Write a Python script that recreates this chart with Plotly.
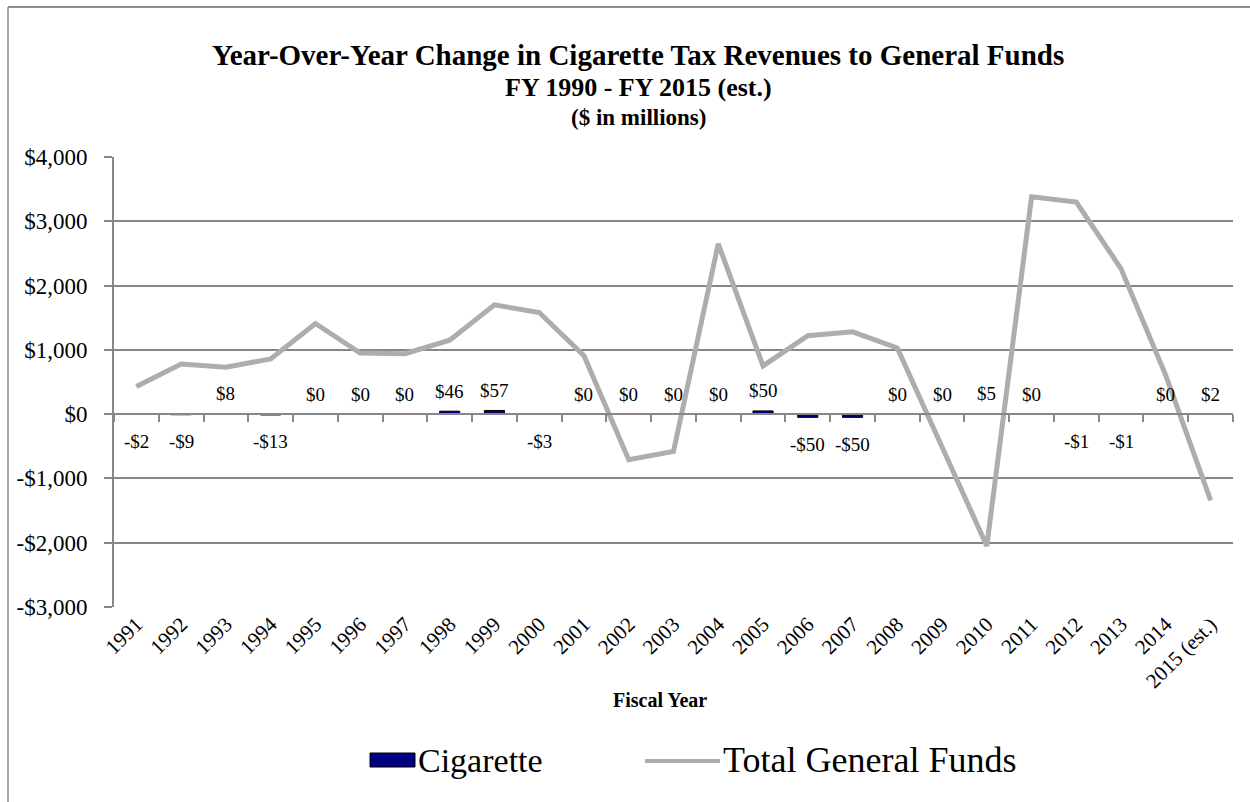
import plotly.graph_objects as go

# Fiscal years on the category axis
years = ["1991", "1992", "1993", "1994", "1995", "1996", "1997", "1998", "1999",
         "2000", "2001", "2002", "2003", "2004", "2005", "2006", "2007", "2008",
         "2009", "2010", "2011", "2012", "2013", "2014", "2015 (est.)"]

# Year-over-year change in cigarette tax revenue ($ millions)
cigarette = [-2, -9, 8, -13, 0, 0, 0, 46, 57, -3, 0, 0, 0, 0, 50, -50, -50,
             0, 0, 5, 0, -1, -1, 0, 2]

# Year-over-year change in total general funds ($ millions)
total_general_funds = [430, 780, 730, 860, 1410, 950, 940, 1150, 1700, 1580,
                       910, -710, -580, 2650, 750, 1220, 1280, 1030, -510,
                       -2050, 3380, 3300, 2260, 600, -1340]

y_ticks = [-3000, -2000, -1000, 0, 1000, 2000, 3000, 4000]
y_tick_text = ["-$3,000", "-$2,000", "-$1,000", "$0", "$1,000", "$2,000", "$3,000", "$4,000"]

W, H = 1250, 802
L, R, T, B = 114, 17, 157, 195
PW, PH = W - L - R, H - T - B
FONT = "Liberation Serif, Times New Roman, serif"
GRID = "#878787"
NAVY = "#000080"
LINE_GREY = "#adadad"


def px(x):
    return (x - L) / PW


def py(y):
    return (H - B - y) / PH


fig = go.Figure()

fig.add_trace(go.Bar(
    x=years, y=cigarette, name="Cigarette",
    marker=dict(color=NAVY, line=dict(color="#000000", width=1)),
    width=0.45, showlegend=False,
))

fig.add_trace(go.Scatter(
    x=years, y=total_general_funds, name="Total General Funds",
    mode="lines", line=dict(color=LINE_GREY, width=5),
    showlegend=False,
))

annotations = []

# value labels at the outer end of each bar (x given as category index)
for i, v in enumerate(cigarette):
    label = f"${v}" if v >= 0 else f"-${abs(v)}"
    annotations.append(dict(
        x=i, y=v, xref="x", yref="y", text=label, showarrow=False,
        yshift=20 if v >= 0 else -27, yanchor="middle",
        font=dict(family=FONT, size=19, color="black"),
    ))

# chart title
for text, size, ypix in [
    ("<b>Year-Over-Year Change in Cigarette Tax Revenues to General Funds</b>", 29, 55),
    ("<b>FY 1990 - FY 2015 (est.)</b>", 26, 87),
    ("<b>($ in millions)</b>", 23, 117),
]:
    annotations.append(dict(
        x=px(638), y=py(ypix), xref="paper", yref="paper", text=text,
        showarrow=False, xanchor="center", yanchor="middle",
        font=dict(family=FONT, size=size, color="black"),
    ))

# axis title
annotations.append(dict(
    x=px(660), y=py(700), xref="paper", yref="paper", text="<b>Fiscal Year</b>",
    showarrow=False, xanchor="center", yanchor="middle",
    font=dict(family=FONT, size=20, color="black"),
))

# legend text
annotations.append(dict(
    x=px(416), y=py(760), xref="paper", yref="paper", text="Cigarette",
    showarrow=False, xanchor="left", yanchor="middle",
    font=dict(family=FONT, size=34, color="black"),
))
annotations.append(dict(
    x=px(721), y=py(760), xref="paper", yref="paper", text="Total General Funds",
    showarrow=False, xanchor="left", yanchor="middle",
    font=dict(family=FONT, size=36, color="black"),
))

shapes = [
    # legend symbols
    dict(type="rect", xref="paper", yref="paper",
         x0=px(370), x1=px(415), y0=py(767), y1=py(753),
         fillcolor=NAVY, line=dict(color="#000000", width=1)),
    dict(type="line", xref="paper", yref="paper",
         x0=px(645), x1=px(720), y0=py(761), y1=py(761),
         line=dict(color=LINE_GREY, width=4)),
    # outer chart frame
    dict(type="line", xref="paper", yref="paper",
         x0=px(8), x1=px(W), y0=py(7), y1=py(7),
         line=dict(color="#8c8c8c", width=2)),
    dict(type="line", xref="paper", yref="paper",
         x0=px(8), x1=px(8), y0=py(7), y1=py(H),
         line=dict(color="#8c8c8c", width=1.5)),
]

fig.update_layout(
    width=W, height=H,
    margin=dict(l=L, r=R, t=T, b=B),
    paper_bgcolor="white", plot_bgcolor="white",
    font=dict(family=FONT, color="black"),
    showlegend=False,
    annotations=annotations,
    shapes=shapes,
    xaxis=dict(
        type="category", range=[-0.5, len(years) - 0.5],
        tickangle=-45, ticks="", showline=False, showgrid=False,
        tickfont=dict(family=FONT, size=21, color="black"),
        zeroline=False,
    ),
    # axis line with boundary ticks drawn through the zero level
    xaxis2=dict(
        overlaying="x", anchor="free", position=3 / 7,
        range=[-0.5, len(years) - 0.5], type="linear",
        tickmode="array", tickvals=[i - 0.5 for i in range(len(years) + 1)],
        ticks="outside", ticklen=7, tickwidth=1.5, tickcolor=GRID,
        showticklabels=False, showline=True, linecolor=GRID, linewidth=2,
        showgrid=False, zeroline=False,
    ),
    yaxis=dict(
        range=[-3000, 4000], tickvals=y_ticks, ticktext=y_tick_text,
        showgrid=True, gridcolor=GRID, gridwidth=1.5,
        showline=True, linecolor=GRID, linewidth=2,
        ticks="outside", ticklen=8, tickcolor=GRID, tickwidth=1.5,
        tickfont=dict(family=FONT, size=23, color="black"),
        zeroline=False, ticklabelstandoff=12,
    ),
)

# an invisible point keeps the overlay axis rendered
fig.add_trace(go.Scatter(x=[0], y=[0], xaxis="x2", mode="markers",
                         marker=dict(opacity=0), hoverinfo="skip",
                         showlegend=False))

fig.write_html("out.html")
